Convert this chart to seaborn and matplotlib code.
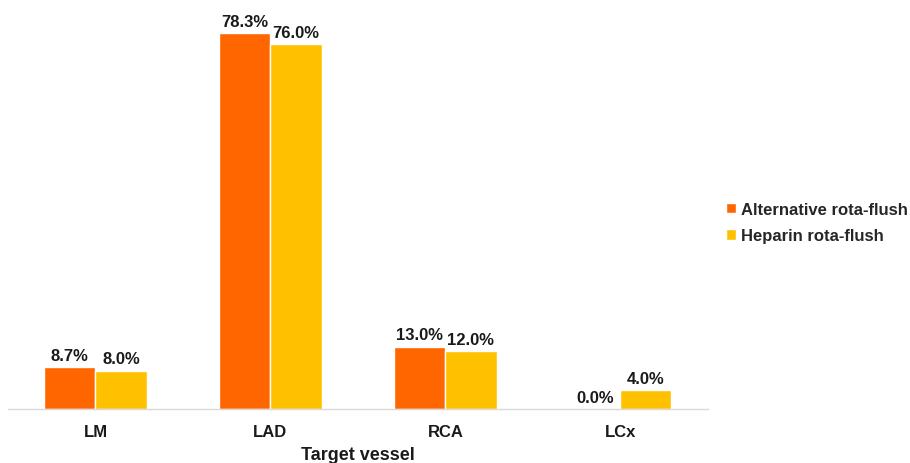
import pandas
import matplotlib
matplotlib.use('Agg')
import matplotlib.pyplot as plt
import seaborn as sns

vessels = ['LM', 'LAD', 'RCA', 'LCx']
alternativeFlush = [8.7, 78.3, 13.0, 0.0]
heparinFlush = [8.0, 76.0, 12.0, 4.0]
groupNames = ['Alternative rota-flush', 'Heparin rota-flush']
groupColors = ['#FF6600', '#FFC000']

data = pandas.DataFrame({
    'vessel': vessels * 2,
    'percent': alternativeFlush + heparinFlush,
    'group': [groupNames[0]] * len(vessels) + [groupNames[1]] * len(vessels),
})

sns.set_style('white')
plt.rcParams['font.family'] = ['Liberation Sans', 'DejaVu Sans']

fig = plt.figure(figsize=(9.1, 4.64), dpi=100)
ax = fig.add_axes([0.0088, 0.1164, 0.769, 0.828])

sns.barplot(data=data, x='vessel', y='percent', hue='group', order=vessels,
            hue_order=groupNames, palette=groupColors, saturation=1, width=0.585,
            edgecolor='white', linewidth=1, errorbar=None, ax=ax)

for container in ax.containers:
    ax.bar_label(container, fmt='%.1f%%', padding=3, fontsize=12, fontweight='bold', color='#1a1a1a')

ax.set_ylim(0, 80)
ax.set_xlim(-0.5, 3.5)
ax.set_yticks([])
ax.set_ylabel('')
ax.set_xlabel('Target vessel', fontsize=13, fontweight='bold', color='#1a1a1a', labelpad=5)
ax.tick_params(axis='x', length=0, pad=11, labelsize=12)
for lbl in ax.get_xticklabels():
    lbl.set_fontweight('bold')
    lbl.set_color('#1a1a1a')
for side in ['top', 'left', 'right']:
    ax.spines[side].set_visible(False)
ax.spines['bottom'].set_color('#D9D9D9')
ax.spines['bottom'].set_linewidth(1)

handles, labels = ax.get_legend_handles_labels()
ax.legend_.remove()
leg = fig.legend(handles, labels, loc='center left', bbox_to_anchor=(0.79, 0.518),
                 frameon=False, handlelength=0.6, handleheight=0.6, handletextpad=0.35,
                 labelspacing=0.7, borderaxespad=0, prop={'weight': 'bold', 'size': 12})

fig.savefig('out.png', dpi=100)
